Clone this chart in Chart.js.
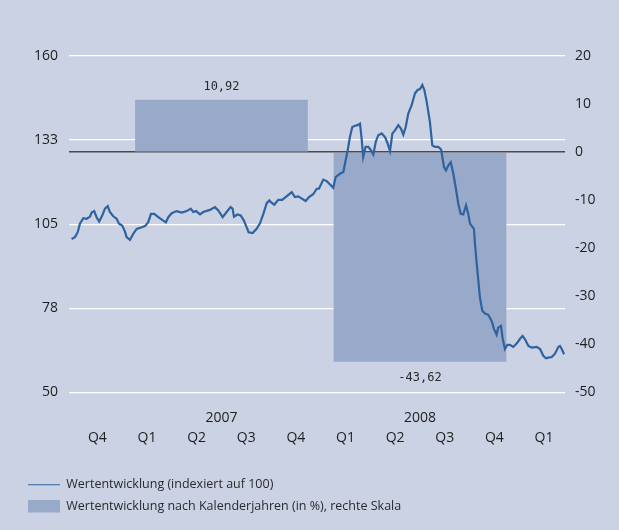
<!DOCTYPE html>
<html><head><meta charset="utf-8">
<script src="https://cdn.jsdelivr.net/npm/chart.js@4.4.1/dist/chart.umd.min.js"></script>
<style>html,body{margin:0;padding:0;background:#cbd2e4;}canvas{display:block;}</style>
</head><body>
<canvas id="c" width="619" height="530"></canvas>
<script>
// ---------- data ----------
const quarters = ['Q4 2006','Q1 2007','Q2 2007','Q3 2007','Q4 2007','Q1 2008','Q2 2008','Q3 2008','Q4 2008','Q1 2009'];
const years = ['2007', '2008'];
const yearReturns = [10.92, -43.62];
const leftTicks = [50, 77.5, 105, 132.5, 160];
const lineDates = [
2006.745,2006.762,2006.776,2006.787,2006.804,2006.821,2006.838,2006.846,2006.859,2006.871,
2006.884,2006.900,2006.913,2006.927,2006.938,2006.955,2006.972,2006.984,2007.000,2007.014,
2007.022,2007.039,2007.056,2007.073,2007.089,2007.115,2007.131,2007.145,2007.161,2007.182,
2007.207,2007.220,2007.232,2007.249,2007.274,2007.300,2007.325,2007.345,2007.358,2007.372,
2007.392,2007.408,2007.442,2007.467,2007.484,2007.506,2007.526,2007.546,2007.556,2007.563,
2007.580,2007.597,2007.613,2007.627,2007.637,2007.657,2007.677,2007.694,2007.711,2007.728,
2007.741,2007.749,2007.766,2007.786,2007.806,2007.828,2007.854,2007.870,2007.887,2007.907,
2007.924,2007.941,2007.962,2007.980,2007.991,2008.013,2008.030,2008.047,2008.063,2008.075,
2008.097,2008.114,2008.122,2008.136,2008.147,2008.159,2008.173,2008.186,2008.198,2008.206,
2008.214,2008.226,2008.240,2008.253,2008.265,2008.277,2008.290,2008.307,2008.324,2008.337,
2008.349,2008.361,2008.374,2008.391,2008.404,2008.416,2008.428,2008.441,2008.458,2008.475,
2008.488,2008.500,2008.512,2008.522,2008.534,2008.550,2008.562,2008.576,2008.592,2008.606,
2008.613,2008.621,2008.631,2008.643,2008.655,2008.668,2008.681,2008.693,2008.705,2008.718,
2008.732,2008.743,2008.752,2008.766,2008.772,2008.777,2008.786,2008.794,2008.802,2008.814,
2008.827,2008.844,2008.861,2008.873,2008.886,2008.894,2008.908,2008.917,2008.928,2008.940,
2008.953,2008.970,2008.987,2009.007,2009.017,2009.029,2009.046,2009.063,2009.088,2009.105,
2009.121,2009.135,2009.146,2009.164,2009.180,2009.197,2009.205,2009.214,2009.226
];
const lineValues = [
100.2,100.8,102.4,105.2,107.0,106.8,107.5,108.8,109.3,107.3,
105.9,107.9,110.1,110.9,109.0,107.6,106.8,105.2,104.6,102.6,
100.8,99.9,101.9,103.5,103.8,104.4,105.7,108.4,108.4,107.3,
106.2,105.6,107.3,108.6,109.3,108.8,109.3,110.1,109.0,109.3,
108.2,109.0,109.7,110.6,109.5,107.3,109.0,110.6,110.1,107.5,
108.2,107.9,106.2,104.0,102.4,102.1,103.5,105.3,108.4,111.9,
112.8,112.2,111.4,113.0,113.0,114.1,115.5,113.9,114.1,113.3,
112.6,113.9,114.8,116.6,116.6,119.6,119.1,118.0,116.9,120.4,
121.5,122.1,124.8,129.2,133.5,136.8,137.2,137.4,137.9,133.0,
127.0,130.3,130.3,129.2,127.8,131.9,134.1,134.7,133.5,131.4,
128.9,134.7,135.7,137.4,136.3,134.3,136.8,141.2,143.9,147.8,
148.9,149.2,150.5,148.9,145.0,138.5,130.8,130.3,130.3,129.5,
126.9,123.7,122.6,124.3,125.3,121.5,116.6,111.7,108.4,108.2,
111.2,108.4,105.2,104.0,103.5,98.6,92.0,86.6,81.1,76.7,
75.8,75.4,73.4,70.7,68.9,71.2,71.8,67.4,64.2,65.6,
65.6,64.9,66.0,67.8,68.5,67.4,65.2,64.7,64.9,64.2,
62.0,61.2,61.4,61.6,62.7,64.9,65.2,64.2,62.5
];

// ---------- derived ----------
const quarterCenters = quarters.map(s => {
  const q = parseInt(s[1], 10), y = parseInt(s.slice(3), 10);
  return y + (q - 1) / 4 + 0.125;
});
const quarterLabels = quarters.map(s => s.slice(0, 2));
const yearCenters = years.map(y => +y + 0.5);

const X_MIN = 2006.732, X_MAX = 2009.2305;
const BAR = '#98a9ca', LINE = '#2e63a0', TXT = '#1e1e1e';

Chart.defaults.font.family = '"Open Sans", sans-serif';
Chart.defaults.color = TXT;

const barLabels = {
  id: 'barLabels',
  afterDatasetsDraw(chart) {
    const meta = chart.getDatasetMeta(1);
    const ctx = chart.ctx;
    ctx.save();
    ctx.font = '12px "DejaVu Sans Mono", monospace';
    ctx.fillStyle = '#2a2a2a';
    ctx.textAlign = 'center';
    ctx.textBaseline = 'middle';
    meta.data.forEach((el, i) => {
      const v = yearReturns[i];
      const txt = v.toFixed(2).replace('.', ',');
      ctx.fillText(txt, el.x, v >= 0 ? el.y - 13 : el.y + 16);
    });
    ctx.restore();
  }
};

new Chart(document.getElementById('c'), {
  data: {
    datasets: [
      {
        type: 'line',
        label: 'Wertentwicklung (indexiert auf 100)',
        data: lineDates.map((d, i) => ({ x: d, y: lineValues[i] })),
        xAxisID: 'x', yAxisID: 'y',
        borderColor: LINE, backgroundColor: LINE,
        borderWidth: 2.2, pointRadius: 0, tension: 0,
        pointStyle: 'line', order: 0
      },
      {
        type: 'bar',
        label: 'Wertentwicklung nach Kalenderjahren (in %), rechte Skala',
        data: yearCenters.map((c, i) => ({ x: c, y: yearReturns[i] })),
        xAxisID: 'xYear', yAxisID: 'y2',
        backgroundColor: BAR, borderWidth: 0, grouped: false,
        categoryPercentage: 1, barPercentage: 0.87,
        pointStyle: 'rect', order: 1
      }
    ]
  },
  options: {
    responsive: false, animation: false, devicePixelRatio: 1,
    layout: { padding: { top: 56, left: 19, right: 0, bottom: 7.5 } },
    scales: {
      xYear: {
        type: 'linear', position: 'bottom', weight: 0, offset: false,
        min: X_MIN, max: X_MAX,
        afterBuildTicks: s => { s.ticks = yearCenters.map(v => ({ value: v })); },
        afterFit: s => { s.height = 33.8; },
        ticks: { callback: (v, i) => years[i], padding: 17, font: { size: 14 }, maxRotation: 0, autoSkip: false },
        grid: { display: false, drawTicks: false, offset: false }, border: { display: false }
      },
      x: {
        type: 'linear', position: 'bottom', weight: 1, offset: false,
        min: X_MIN, max: X_MAX,
        afterBuildTicks: s => { s.ticks = quarterCenters.map(v => ({ value: v })); },
        afterFit: s => { s.height = 43.2; },
        ticks: { callback: (v, i) => quarterLabels[i], padding: 3, font: { size: 14 }, maxRotation: 0, autoSkip: false },
        grid: { display: false, drawTicks: false }, border: { display: false }
      },
      y: {
        type: 'linear', position: 'left', min: 50, max: 160,
        afterBuildTicks: s => { s.ticks = leftTicks.map(v => ({ value: v })); },
        afterFit: s => { s.width = 50; },
        ticks: { callback: v => String(Math.round(v)), padding: 11, font: { size: 14 } },
        grid: { color: '#ffffff', lineWidth: 1.3, drawTicks: false },
        border: { display: false }
      },
      y2: {
        type: 'linear', position: 'right', min: -50, max: 20, z: 1,
        afterFit: s => { s.width = 54; },
        ticks: { stepSize: 10, padding: 10, font: { size: 14 } },
        grid: {
          color: c => (c.tick && c.tick.value === 0) ? '#4a4a4a' : 'rgba(0,0,0,0)',
          lineWidth: 1.5, drawTicks: false
        },
        border: { display: false }
      }
    },
    plugins: {
      tooltip: { enabled: false },
      legend: {
        position: 'bottom', align: 'start',
        labels: {
          usePointStyle: true, pointStyleWidth: 32, boxHeight: 13,
          padding: 9, color: '#2a2a2a', font: { size: 12.5 },
          generateLabels(chart) {
            const items = Chart.defaults.plugins.legend.labels.generateLabels(chart);
            items.forEach(it => { if (it.datasetIndex === 0) it.lineWidth = 1.2; });
            return items;
          }
        }
      }
    }
  },
  plugins: [barLabels]
});
</script>
</body></html>
